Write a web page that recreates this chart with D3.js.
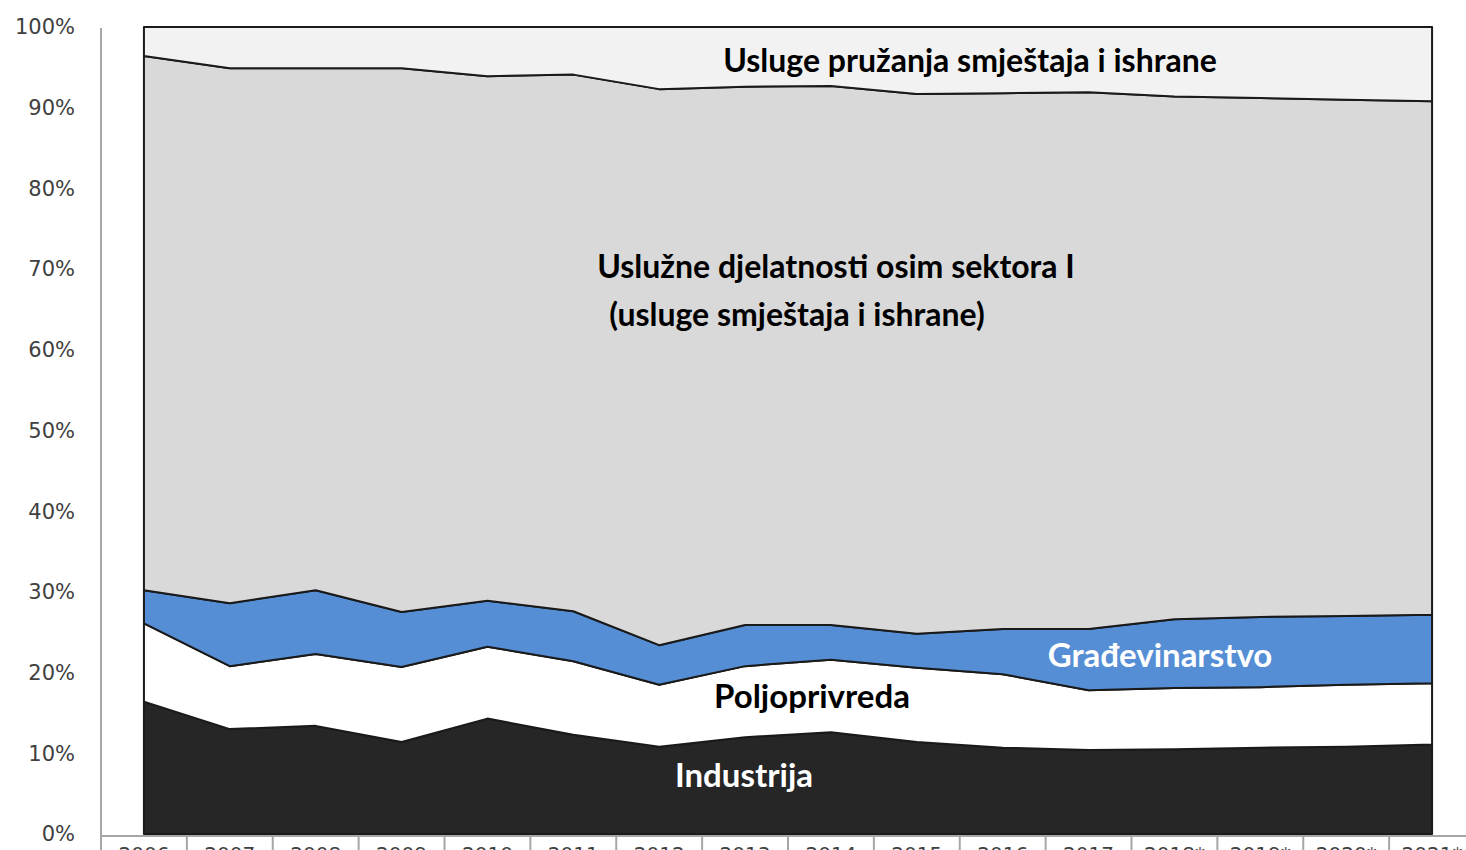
<!DOCTYPE html>
<html>
<head>
<meta charset="utf-8">
<script src="https://cdn.jsdelivr.net/npm/d3@7"></script>
<style>
  body { margin: 0; background: #fff; overflow: hidden; }
  svg { display: block; }
</style>
</head>
<body>
<div id="chart"></div>
<script>
// years on the x axis (last ones are estimates)
var years = ["2006","2007","2008","2009","2010","2011","2012","2013","2014","2015","2016","2017","2018*","2019*","2020*","2021*"];

// shares in %, bottom to top
var industrija     = [16.4,13.0,13.4,11.4,14.3,12.3,10.8,12.0,12.6,11.4,10.7,10.4,10.5,10.7,10.8,11.1];
var poljoprivreda  = [9.7,7.8,8.9,9.3,8.9,9.1,7.7,8.8,9.0,9.2,9.1,7.4,7.6,7.5,7.7,7.6];
var gradjevina     = [4.1,7.8,7.9,6.8,5.7,6.2,4.9,5.1,4.3,4.2,5.6,7.6,8.5,8.7,8.5,8.5];
var usluzne        = [66.2,66.3,64.7,67.4,65.0,66.5,68.9,66.7,66.8,66.9,66.4,66.5,64.8,64.3,64.0,63.7];
var smjestaj       = [3.6,5.1,5.1,5.1,6.1,5.9,7.7,7.4,7.3,8.3,8.2,8.1,8.6,8.8,9.0,9.2];

var yTicks = [0,0.1,0.2,0.3,0.4,0.5,0.6,0.7,0.8,0.9,1];

var keys = ["ind","polj","grad","usl","smj"];
var colors = {ind: "#262626", polj: "#ffffff", grad: "#558ed5", usl: "#d9d9d9", smj: "#f2f2f2"};

var rows = years.map(function(y, i) {
  return {year: y, ind: industrija[i], polj: poljoprivreda[i], grad: gradjevina[i], usl: usluzne[i], smj: smjestaj[i]};
});

var width = 1466, height = 850;
var axisLeft = 101, axisRight = 1475, plotTop = 27, plotBottom = 834;

var svg = d3.select("#chart").append("svg")
  .attr("width", width)
  .attr("height", height);

var x = d3.scalePoint()
  .domain(years)
  .range([axisLeft, axisRight])
  .padding(0.5);

var y = d3.scaleLinear()
  .domain([0, 1])
  .range([plotBottom, plotTop]);

var stacked = d3.stack()
  .keys(keys)
  .offset(d3.stackOffsetExpand)(rows);

var area = d3.area()
  .x(function(d) { return x(d.data.year); })
  .y0(function(d) { return y(d[0]); })
  .y1(function(d) { return y(d[1]); });

svg.selectAll("path.layer")
  .data(stacked)
  .enter()
  .append("path")
  .attr("class", "layer")
  .attr("d", area)
  .attr("fill", function(d) { return colors[d.key]; })
  .attr("stroke", "#1a1a1a")
  .attr("stroke-width", 2)
  .attr("stroke-linejoin", "round");

// y axis: plain grey line, labels on the left
svg.append("line")
  .attr("x1", axisLeft).attr("x2", axisLeft)
  .attr("y1", plotTop + 1).attr("y2", plotBottom + 2)
  .attr("stroke", "#a6a6a6").attr("stroke-width", 2);

svg.selectAll("text.ytick")
  .data(yTicks)
  .enter()
  .append("text")
  .attr("class", "ytick")
  .attr("x", 75)
  .attr("y", function(d) { return y(d); })
  .attr("dy", "0.35em")
  .attr("text-anchor", "end")
  .attr("font-family", "DejaVu Sans, sans-serif")
  .attr("font-size", 21)
  .attr("fill", "#404040")
  .text(d3.format(".0%"));

// x axis with category separators
var step = x.step();
svg.append("line")
  .attr("x1", axisLeft).attr("x2", width)
  .attr("y1", plotBottom + 2).attr("y2", plotBottom + 2)
  .attr("stroke", "#a6a6a6").attr("stroke-width", 2);

svg.selectAll("line.xsep")
  .data(years.concat(["end"]))
  .enter()
  .append("line")
  .attr("class", "xsep")
  .attr("x1", function(d, i) { return axisLeft + i * step; })
  .attr("x2", function(d, i) { return axisLeft + i * step; })
  .attr("y1", plotBottom + 2).attr("y2", height)
  .attr("stroke", "#a6a6a6").attr("stroke-width", 2);

svg.selectAll("text.xtick")
  .data(years)
  .enter()
  .append("text")
  .attr("class", "xtick")
  .attr("x", function(d) { return x(d); })
  .attr("y", 861)
  .attr("text-anchor", "middle")
  .attr("font-family", "DejaVu Sans, sans-serif")
  .attr("font-size", 20)
  .attr("fill", "#404040")
  .text(function(d) { return d; });

// series labels inside the areas
var labels = [
  {t: "Usluge pružanja smještaja i ishrane", x: 970, y: 72, c: "#000", s: 32},
  {t: "Uslužne djelatnosti osim sektora I", x: 836, y: 278, c: "#000", s: 32},
  {t: "(usluge smještaja i ishrane)", x: 797, y: 326, c: "#000", s: 32},
  {t: "Građevinarstvo", x: 1160, y: 667, c: "#fff", s: 33},
  {t: "Poljoprivreda", x: 812, y: 708, c: "#000", s: 33},
  {t: "Industrija", x: 744, y: 787, c: "#fff", s: 33}
];

svg.selectAll("text.lbl")
  .data(labels)
  .enter()
  .append("text")
  .attr("class", "lbl")
  .attr("x", function(d) { return d.x; })
  .attr("y", function(d) { return d.y; })
  .attr("text-anchor", "middle")
  .attr("font-family", "Lato, sans-serif")
  .attr("font-weight", "bold")
  .attr("font-size", function(d) { return d.s; })
  .attr("fill", function(d) { return d.c; })
  .text(function(d) { return d.t; });
</script>
</body>
</html>
